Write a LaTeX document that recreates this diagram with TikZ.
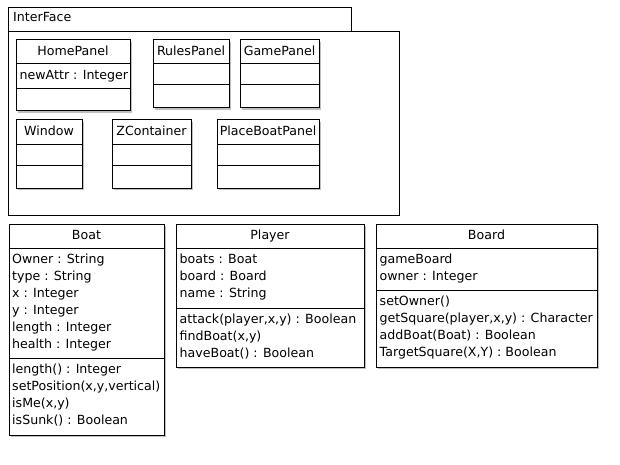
\documentclass[tikz,border=0pt]{standalone}
\usepackage{fontspec}
\setmainfont{DejaVu Sans}
\usetikzlibrary{shadows}
\newcommand{\umlfont}{\fontsize{12.6}{17}\selectfont}
\tikzset{
  frame/.style={draw, line width=1pt, fill=white, anchor=north west, inner sep=0pt, outer sep=0pt},
  classbox/.style={frame, drop shadow={shadow xshift=1.6pt, shadow yshift=-1.6pt, fill=black, opacity=0.25}},
  clsname/.style={anchor=base, inner sep=0pt, font=\umlfont},
  member/.style={anchor=base west, inner sep=0pt, font=\umlfont},
  sep/.style={line width=1pt}
}
\begin{document}
\begin{tikzpicture}[x=1pt,y=-1pt]
\useasboundingbox[fill=white] (0,0) rectangle (620,465);

% package InterFace
\node[frame, minimum width=343pt, minimum height=24pt] (tab) at (8,8) {};
\node[frame, minimum width=391pt, minimum height=183pt] (pkg) at (8,32) {};
\node[member] (pkgname) at (13,22) {InterFace};

% HomePanel
\node[classbox, minimum width=114pt, minimum height=71pt] (home) at (16,40) {};
\node[clsname] (homeT) at (73,56) {HomePanel};
\draw[sep] (home.west |- 0,64) -- (home.east |- 0,64);
\draw[sep] (home.west |- 0,89) -- (home.east |- 0,89);
\node[member] (homeA) at (19.5,79.5) {newAttr : Integer};

% RulesPanel
\node[classbox, minimum width=76pt, minimum height=68pt] (rules) at (153,40) {};
\node[clsname] (rulesT) at (191,56) {RulesPanel};
\draw[sep] (rules.west |- 0,64) -- (rules.east |- 0,64);
\draw[sep] (rules.west |- 0,85) -- (rules.east |- 0,85);

% GamePanel
\node[classbox, minimum width=79pt, minimum height=68pt] (game) at (240,40) {};
\node[clsname] (gameT) at (279.5,56) {GamePanel};
\draw[sep] (game.west |- 0,64) -- (game.east |- 0,64);
\draw[sep] (game.west |- 0,85) -- (game.east |- 0,85);

% Window
\node[classbox, minimum width=66pt, minimum height=68pt] (win) at (16,120) {};
\node[clsname] (winT) at (49,136) {Window};
\draw[sep] (win.west |- 0,145) -- (win.east |- 0,145);
\draw[sep] (win.west |- 0,165) -- (win.east |- 0,165);

% ZContainer
\node[classbox, minimum width=79pt, minimum height=68pt] (zc) at (112,120) {};
\node[clsname] (zcT) at (151.5,136) {ZContainer};
\draw[sep] (zc.west |- 0,145) -- (zc.east |- 0,145);
\draw[sep] (zc.west |- 0,165) -- (zc.east |- 0,165);

% PlaceBoatPanel
\node[classbox, minimum width=102pt, minimum height=68pt] (pbp) at (217,120) {};
\node[clsname] (pbpT) at (268,136) {PlaceBoatPanel};
\draw[sep] (pbp.west |- 0,145) -- (pbp.east |- 0,145);
\draw[sep] (pbp.west |- 0,165) -- (pbp.east |- 0,165);

% Boat
\node[classbox, minimum width=155pt, minimum height=211pt] (boat) at (9,224) {};
\node[clsname] (boatT) at (86.5,239) {Boat};
\draw[sep] (boat.west |- 0,248) -- (boat.east |- 0,248);
\draw[sep] (boat.west |- 0,358) -- (boat.east |- 0,358);
\node[member] (boatA1) at (12,263.5) {Owner : String};
\node[member] (boatA2) at (12,280.5) {type : String};
\node[member] (boatA3) at (12,297.5) {x : Integer};
\node[member] (boatA4) at (12,314.5) {y : Integer};
\node[member] (boatA5) at (12,331.5) {length : Integer};
\node[member] (boatA6) at (12,348.5) {health : Integer};
\node[member] (boatM1) at (12,373.5) {length() : Integer};
\node[member] (boatM2) at (12,390.5) {setPosition(x,y,vertical)};
\node[member] (boatM3) at (12,407.5) {isMe(x,y)};
\node[member] (boatM4) at (12,424.5) {isSunk() : Boolean};

% Player
\node[classbox, minimum width=188pt, minimum height=143pt] (player) at (176,224) {};
\node[clsname] (playerT) at (270,239) {Player};
\draw[sep] (player.west |- 0,248) -- (player.east |- 0,248);
\draw[sep] (player.west |- 0,308) -- (player.east |- 0,308);
\node[member] (playerA1) at (179.5,263.5) {boats : Boat};
\node[member] (playerA2) at (179.5,280.5) {board : Board};
\node[member] (playerA3) at (179.5,297.5) {name : String};
\node[member] (playerM1) at (179.5,323.5) {attack(player,x,y) : Boolean};
\node[member] (playerM2) at (179.5,340.5) {findBoat(x,y)};
\node[member] (playerM3) at (179.5,357.5) {haveBoat() : Boolean};

% Board
\node[classbox, minimum width=221pt, minimum height=143pt] (board) at (376,224) {};
\node[clsname] (boardT) at (486.5,239) {Board};
\draw[sep] (board.west |- 0,248) -- (board.east |- 0,248);
\draw[sep] (board.west |- 0,290) -- (board.east |- 0,290);
\node[member] (boardA1) at (379.5,263.5) {gameBoard};
\node[member] (boardA2) at (379.5,280.5) {owner : Integer};
\node[member] (boardM1) at (379.5,305.5) {setOwner()};
\node[member] (boardM2) at (379.5,322.5) {getSquare(player,x,y) : Character};
\node[member] (boardM3) at (379.5,339.5) {addBoat(Boat) : Boolean};
\node[member] (boardM4) at (379.5,356.5) {TargetSquare(X,Y) : Boolean};
\end{tikzpicture}
\end{document}
